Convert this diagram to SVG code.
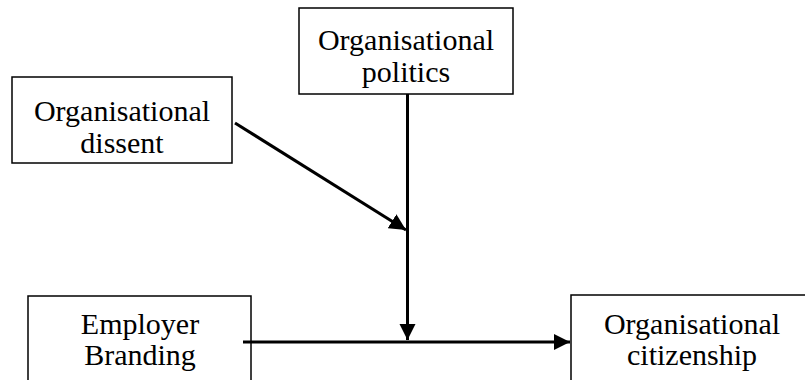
<svg xmlns="http://www.w3.org/2000/svg" width="805" height="380" viewBox="0 0 805 380">
<style>
.box{fill:#fff;stroke:#000;stroke-width:1.5}
.t{font-family:"Liberation Serif","Times New Roman",serif;font-size:30px;fill:#000;text-anchor:middle}
.c{stroke:#000;stroke-width:3;fill:none}
</style>
<defs>
<marker id="ah" viewBox="0 0 10 10" refX="10" refY="5" markerWidth="5.5" markerHeight="5.5" markerUnits="strokeWidth" orient="auto">
<path d="M0,0 L10,5 L0,10 Z" fill="#000"/>
</marker>
</defs>
<rect width="805" height="380" fill="#fff"/>
<g id="politics">
<rect class="box" x="299" y="8" width="214" height="86"/>
<text class="t" x="406" y="50">Organisational</text>
<text class="t" x="406" y="82">politics</text>
</g>
<g id="dissent">
<rect class="box" x="12" y="77" width="220" height="86"/>
<text class="t" x="122" y="121">Organisational</text>
<text class="t" x="122" y="153">dissent</text>
</g>
<g id="branding">
<rect class="box" x="28" y="296" width="223" height="100"/>
<text class="t" x="140" y="334">Employer</text>
<text class="t" x="140" y="365">Branding</text>
</g>
<g id="citizenship">
<rect class="box" x="571" y="295" width="250" height="100"/>
<text class="t" x="692" y="334">Organisational</text>
<text class="t" x="692" y="365">citizenship</text>
</g>
<g id="connectors">
<line class="c" x1="235" y1="123" x2="406" y2="230" marker-end="url(#ah)"/>
<line class="c" x1="407.5" y1="94" x2="407.5" y2="340" marker-end="url(#ah)"/>
<line class="c" x1="243" y1="342" x2="570" y2="342" marker-end="url(#ah)"/>
</g>
</svg>
